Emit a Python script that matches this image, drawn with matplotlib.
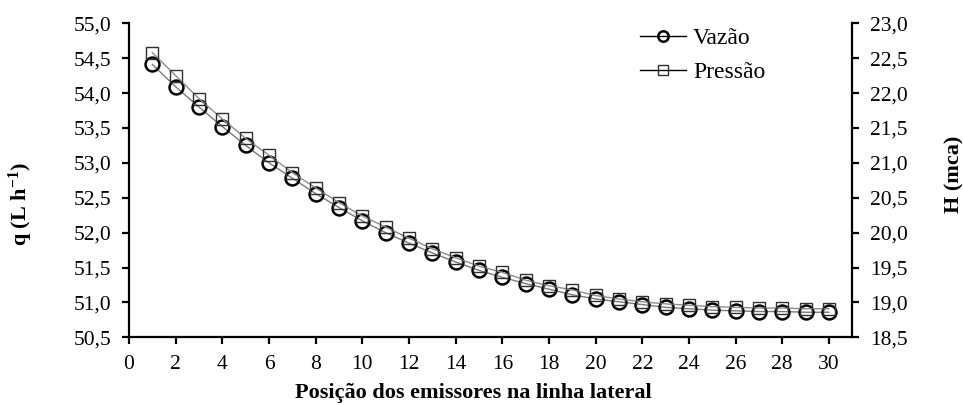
import matplotlib
matplotlib.use("Agg")
import matplotlib.pyplot as plt
from matplotlib.ticker import FuncFormatter, MultipleLocator

plt.rcParams['font.family'] = ['Liberation Serif', 'DejaVu Serif']
plt.rcParams['mathtext.fontset'] = 'custom'
plt.rcParams['mathtext.rm'] = 'Liberation Serif:bold'
plt.rcParams['mathtext.default'] = 'rm'

# posicao do emissor na linha lateral
posicao = list(range(1, 31))
# vazao q (L h-1)
vazao = [54.41, 54.09, 53.80, 53.52, 53.25, 53.00, 52.78, 52.56, 52.36, 52.17,
         52.00, 51.85, 51.71, 51.58, 51.46, 51.36, 51.27, 51.19, 51.11, 51.05,
         51.01, 50.97, 50.93, 50.91, 50.89, 50.88, 50.87, 50.87, 50.86, 50.86]
# pressao H (mca)
pressao = [22.58, 22.25, 21.92, 21.63, 21.35, 21.11, 20.86, 20.64, 20.43, 20.24,
           20.08, 19.92, 19.77, 19.64, 19.52, 19.43, 19.32, 19.24, 19.18, 19.10,
           19.05, 19.01, 18.98, 18.96, 18.94, 18.93, 18.92, 18.92, 18.91, 18.91]

virgula = FuncFormatter(lambda v, p: ('%.1f' % v).replace('.', ','))

fig = plt.figure(figsize=(9.63, 4.05), dpi=100)
ax = fig.add_axes([0.134, 0.167, 0.751, 0.7755])
ax2 = ax.twinx()

l1, = ax.plot(posicao, vazao, color='#7a7a7a', lw=1.0, marker='o', ms=10,
              mfc='none', mec='black', mew=1.8, label='Vazão', zorder=3)
l2, = ax2.plot(posicao, pressao, color='#8c8c8c', lw=1.0, marker='s', ms=9,
               mfc='none', mec='#303030', mew=1.0, label='Pressão', zorder=2)

ax.set_xlim(0, 31)
ax.set_ylim(50.5, 55.0)
ax2.set_ylim(18.5, 23.0)
ax.xaxis.set_major_locator(MultipleLocator(2))
ax.yaxis.set_major_locator(MultipleLocator(0.5))
ax2.yaxis.set_major_locator(MultipleLocator(0.5))
ax.yaxis.set_major_formatter(virgula)
ax2.yaxis.set_major_formatter(virgula)

for a in (ax, ax2):
    a.spines['top'].set_visible(False)
    for s in ('left', 'right', 'bottom'):
        a.spines[s].set_linewidth(1.6)
    a.tick_params(direction='out', length=5, width=1.6, labelsize=15.5)
    a.tick_params(axis='y', pad=8)
ax.tick_params(axis='x', pad=8)
ax.spines['right'].set_visible(False)
ax2.spines['left'].set_visible(False)
ax2.spines['bottom'].set_visible(False)

ax.set_xlabel('Posição dos emissores na linha lateral', fontsize=16,
              fontweight='bold')
ax.xaxis.set_label_coords(0.476, -0.145)
ax.set_ylabel(r'q (L h$^{-1}$)', fontsize=16, fontweight='bold')
ax.yaxis.set_label_coords(-0.13, 0.425)
ax2.set_ylabel('H (mca)', fontsize=16, fontweight='bold')
ax2.yaxis.set_label_coords(1.127, 0.52)

leg = ax.legend([l1, l2], ['Vazão', 'Pressão'], loc='upper left',
                bbox_to_anchor=(0.677, 1.055), frameon=False, fontsize=17,
                handlelength=1.95, handletextpad=0.3, labelspacing=0.55,
                markerscale=0.75)
for h in leg.get_lines():
    h.set_color('black')
    h.set_linewidth(1.0)

fig.savefig('out.png', dpi=100)
